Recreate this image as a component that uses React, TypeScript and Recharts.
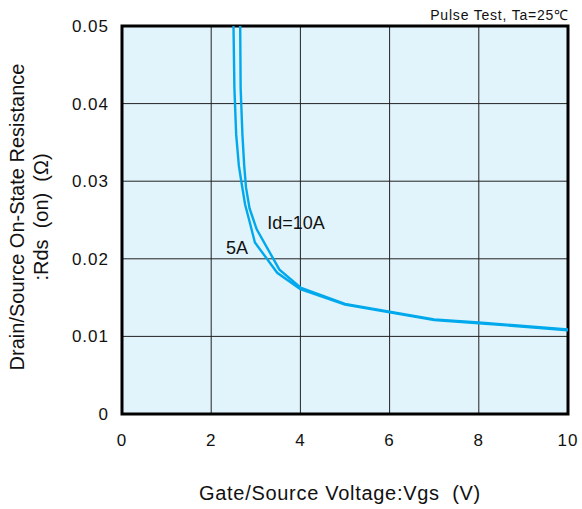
import React from 'react';
import { LineChart, Line, XAxis, YAxis, CartesianGrid, ReferenceArea, ReferenceDot } from 'recharts';

// Rds(on) vs Vgs
const VGS_5A = [2.5, 2.52, 2.56, 2.62, 2.68, 2.76, 2.86, 2.98, 3.48, 4.0, 5, 6, 7, 8, 10];
const RDS_5A = [0.05, 0.042, 0.036, 0.032, 0.0298, 0.027, 0.0248, 0.0221, 0.0182, 0.0161, 0.0141, 0.0131, 0.0121, 0.0117, 0.0108];
const VGS_10A = [2.65, 2.66, 2.7, 2.74, 2.78, 2.86, 3.02, 3.53, 4.0, 5, 6, 7, 8, 10];
const RDS_10A = [0.05, 0.042, 0.036, 0.032, 0.0292, 0.0265, 0.0238, 0.0186, 0.0163, 0.0142, 0.0132, 0.0122, 0.0118, 0.0109];

const X_TICKS = [0, 2, 4, 6, 8, 10];
const Y_TICKS = [0, 0.01, 0.02, 0.03, 0.04, 0.05];

const CURVE_LABELS = [
  { text: 'Id=10A', x: 3.9, y: 0.0247 },
  { text: '5A', x: 2.58, y: 0.0215 },
];

const BLUE = '#00a9ec';
const FONT = 'Liberation Sans, Arial, sans-serif';

const toPoints = (xs: number[], ys: number[]) => xs.map((x, i) => ({ x, y: ys[i] }));

export default function App() {
  const d5 = toPoints(VGS_5A, RDS_5A);
  const d10 = toPoints(VGS_10A, RDS_10A);
  const tick = { fill: '#111', fontSize: 17, fontFamily: FONT, letterSpacing: 1 };

  return (
    <div style={{ position: 'absolute', left: 0, top: 0, width: 582, height: 509, background: '#fff', fontFamily: FONT, color: '#111' }}>
      <LineChart width={582} height={509} margin={{ top: 26, right: 14, left: 0, bottom: 55 }}>
        <CartesianGrid stroke="#222" strokeWidth={1} fill="#e1f3fb" horizontalValues={Y_TICKS} verticalValues={X_TICKS} />
        <XAxis
          type="number"
          dataKey="x"
          domain={[0, 10]}
          ticks={X_TICKS}
          tickLine={false}
          axisLine={false}
          tickSize={0}
          tickMargin={20}
          height={40}
          tick={tick}
          allowDataOverflow
        />
        <YAxis
          type="number"
          dataKey="y"
          domain={[0, 0.05]}
          ticks={Y_TICKS}
          tickLine={false}
          axisLine={false}
          tickSize={0}
          tickMargin={13}
          width={122}
          tick={tick}
          allowDataOverflow
        />
        <Line data={d5} dataKey="y" stroke={BLUE} strokeWidth={2.4} dot={false} isAnimationActive={false} />
        <Line data={d10} dataKey="y" stroke={BLUE} strokeWidth={2.4} dot={false} isAnimationActive={false} />
        {CURVE_LABELS.map((l) => (
          <ReferenceDot
            key={l.text}
            x={l.x}
            y={l.y}
            r={0}
            fill="none"
            stroke="none"
            label={{ value: l.text, position: 'center', fill: '#111', fontSize: 18, fontFamily: FONT }}
          />
        ))}
        <ReferenceArea x1={0} x2={10} y1={0} y2={0.05} fill="none" stroke="#000" strokeWidth={3} ifOverflow="visible" />
      </LineChart>
      <div style={{ position: 'absolute', right: 13, top: 6, fontSize: 14, letterSpacing: 0.8, whiteSpace: 'pre', lineHeight: '18px' }}>
        Pulse Test, Ta=25℃
      </div>
      <div
        style={{
          position: 'absolute',
          left: 340,
          top: 493,
          transform: 'translate(-50%, -50%)',
          fontSize: 20,
          letterSpacing: 0.7,
          whiteSpace: 'pre',
          lineHeight: '24px',
        }}
      >
        Gate/Source Voltage:Vgs  (V)
      </div>
      <div
        style={{
          position: 'absolute',
          left: 29,
          top: 217,
          transform: 'translate(-50%, -50%) rotate(-90deg)',
          fontSize: 20,
          whiteSpace: 'pre',
          textAlign: 'center',
          lineHeight: '24px',
        }}
      >
        {'Drain/Source On-State Resistance\n:Rds  (on)  (Ω)'}
      </div>
    </div>
  );
}
